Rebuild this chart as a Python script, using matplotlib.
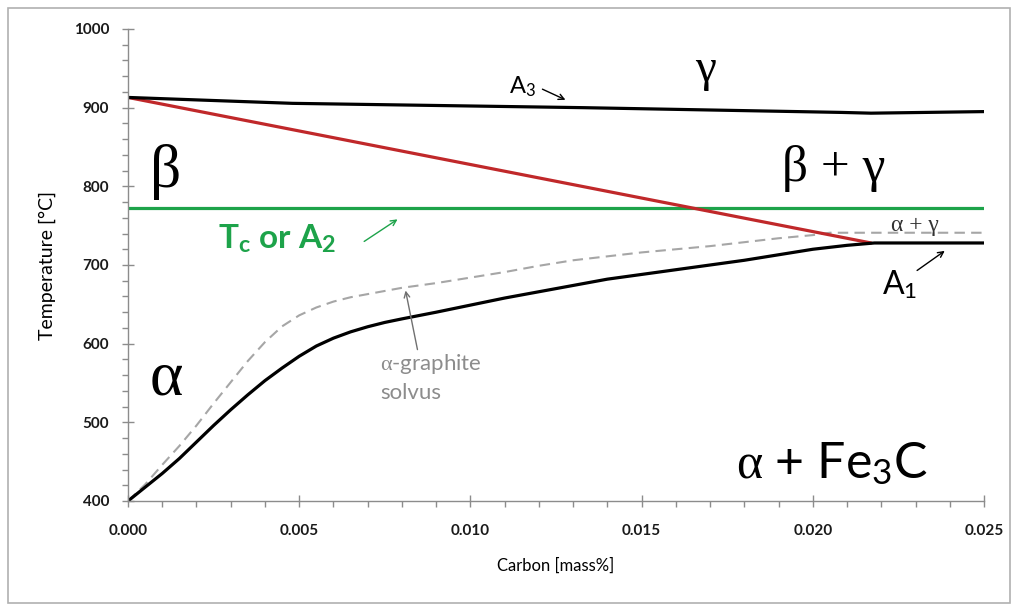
import matplotlib.pyplot as plt
from matplotlib.patches import Rectangle
from matplotlib.ticker import MultipleLocator

plt.rcParams['font.family'] = ['Lato', 'DejaVu Sans']
plt.rcParams['mathtext.fontset'] = 'custom'
plt.rcParams['mathtext.it'] = 'Liberation Serif'
plt.rcParams['mathtext.rm'] = 'Liberation Serif'

# A3 line (gamma / beta+gamma boundary)
a3_c = [0.0, 0.0048, 0.0133, 0.0208, 0.0217, 0.025]
a3_t = [913, 905.5, 900, 894, 893, 895]

# red line from A3 start down to eutectoid point
red_c = [0.0, 0.0217]
red_t = [913, 728]

# Curie temperature / A2
a2_c = [0.0, 0.025]
a2_t = [772, 772]

# alpha / Fe3C solvus + A1
sol_c = [0.0, 0.0005, 0.001, 0.0015, 0.002, 0.0025, 0.003, 0.0035, 0.004, 0.0045,
         0.005, 0.0055, 0.006, 0.0065, 0.007, 0.0075, 0.008, 0.009, 0.010, 0.011,
         0.012, 0.013, 0.014, 0.015, 0.016, 0.017, 0.018, 0.019, 0.020, 0.021,
         0.0218, 0.025]
sol_t = [400, 417.5, 435, 454, 475, 496, 516, 535, 553, 569,
         584, 597, 607, 615, 621.5, 627, 631.5, 640, 649, 658,
         666, 674, 682, 688, 694, 700, 706, 713, 720, 725,
         728, 728]

# alpha-graphite solvus (dashed)
gr_c = [0.0, 0.0005, 0.001, 0.0015, 0.002, 0.0025, 0.003, 0.0035, 0.004, 0.0045,
        0.005, 0.0055, 0.006, 0.0065, 0.007, 0.0075, 0.008, 0.009, 0.010, 0.011,
        0.012, 0.013, 0.014, 0.015, 0.016, 0.017, 0.018, 0.019, 0.020, 0.0205,
        0.025]
gr_t = [400, 421, 446, 470, 496, 524, 551, 578, 602, 622,
        636, 646, 653.5, 659, 663, 667, 671, 677, 684, 691,
        699, 706, 711, 716, 720, 724, 729, 734, 738, 741,
        741]

fig = plt.figure(figsize=(10.18, 6.05), dpi=100)
ax = fig.add_axes([128/1018, 104/605, 856/1018, 472/605])

# frame around the whole picture
fig.patches.append(Rectangle((8/1018, 2/605), 1002/1018, 595/605, transform=fig.transFigure,
                             fill=False, edgecolor='#b0b0b0', linewidth=1.2))

ax.plot(gr_c, gr_t, color='#a6a6a6', linewidth=1.5, dashes=(5, 3))
ax.plot(a2_c, a2_t, color='#1da34a', linewidth=2.3)
ax.plot(red_c, red_t, color='#c0282a', linewidth=2.3, solid_capstyle='round')
ax.plot(sol_c, sol_t, color='black', linewidth=2.3, solid_joinstyle='round')
ax.plot(a3_c, a3_t, color='black', linewidth=2.3, solid_joinstyle='round')

ax.set_xlim(0, 0.025)
ax.set_ylim(400, 1000)
ax.xaxis.set_major_locator(MultipleLocator(0.005))
ax.xaxis.set_minor_locator(MultipleLocator(0.001))
ax.yaxis.set_major_locator(MultipleLocator(100))
ax.yaxis.set_minor_locator(MultipleLocator(20))
ax.xaxis.set_major_formatter(plt.FormatStrFormatter('%.3f'))

for s in ['top', 'right']:
    ax.spines[s].set_visible(False)
for s in ['left', 'bottom']:
    ax.spines[s].set_color('#8c8c8c')
    ax.spines[s].set_linewidth(1.0)

ax.tick_params(which='major', direction='inout', length=9, width=1, color='#8c8c8c',
               labelsize=11, labelcolor='#1a1a1a', pad=9)
ax.tick_params(which='minor', direction='out', length=4, width=1, color='#8c8c8c')
for lab in ax.get_xticklabels() + ax.get_yticklabels():
    lab.set_fontweight('bold')
ax.tick_params(axis='x', pad=12)

ax.set_xlabel('Carbon [mass%]', fontsize=12, color='black', labelpad=14)
ax.set_ylabel('Temperature [°C]', fontsize=14, color='black', labelpad=13)

serif = ['Liberation Serif', 'DejaVu Serif']
ax.text(0.00111, 818, 'β', fontsize=44, family=serif, ha='center', va='center')
ax.text(0.00111, 554, 'α', fontsize=46, family=serif, ha='center', va='center')
ax.text(0.01688, 948, 'γ', fontsize=34, family=serif, ha='center', va='center')
ax.text(0.02062, 823, 'β + γ', fontsize=37, family=serif, ha='center', va='center')
ax.text(0.02298, 750, 'α + γ', fontsize=17, family=serif, ha='center', va='center',
        color='#333333')
ax.text(0.02056, 448, r'$\alpha$ + Fe$_\mathregular{3}$C', fontsize=36,
        ha='center', va='center')

ax.text(0.01151, 927, r'A$_\mathregular{3}$', fontsize=17, ha='center', va='center')
ax.annotate('', xy=(0.01285, 908.5), xytext=(0.01203, 925),
            arrowprops=dict(arrowstyle='->', color='black', lw=1.0))

ax.text(0.02255, 675, r'A$_\mathregular{1}$', fontsize=23, ha='center', va='center')
ax.annotate('', xy=(0.02392, 720), xytext=(0.02298, 691),
            arrowprops=dict(arrowstyle='->', color='black', lw=1.0))

ax.text(0.00263, 734, r'T$_\mathregular{c}$ or A$_\mathregular{2}$', fontsize=24,
        fontweight='bold', color='#1da34a', ha='left', va='center')
ax.annotate('', xy=(0.00794, 760), xytext=(0.00683, 728),
            arrowprops=dict(arrowstyle='->', color='#1da34a', lw=1.0))

ax.text(0.00736, 557, '$\\alpha$-graphite\nsolvus', fontsize=16, color='#8c8c8c',
        ha='left', va='center', linespacing=1.4)
ax.annotate('', xy=(0.00809, 671), xytext=(0.00847, 589),
            arrowprops=dict(arrowstyle='->', color='#707070', lw=1.0))

fig.savefig('out.png', dpi=100)
